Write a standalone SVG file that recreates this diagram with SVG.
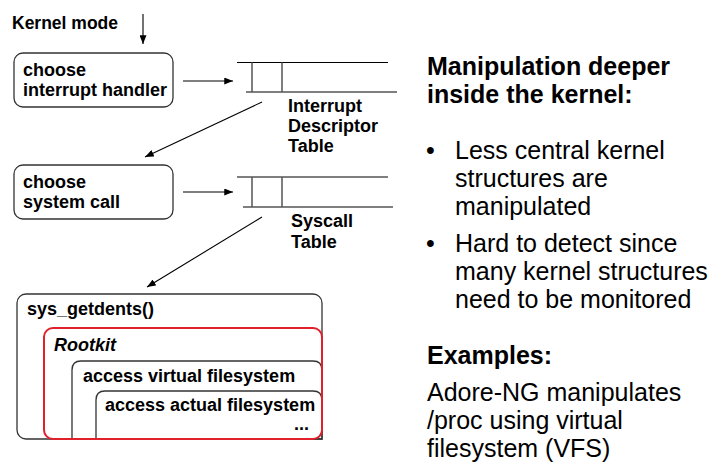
<svg xmlns="http://www.w3.org/2000/svg" width="722" height="470" viewBox="0 0 722 470">
<defs>
<marker id="ah" viewBox="0 0 10 8" refX="10" refY="4" markerWidth="9" markerHeight="7" markerUnits="userSpaceOnUse" orient="auto">
<path d="M0,0 L10,4 L0,8 Z" fill="#000"/>
</marker>
</defs>
<style>
.lbl{font-family:"Liberation Sans",Arial,sans-serif;font-weight:bold;font-size:18px;fill:#000}
.box{fill:none;stroke:#333;stroke-width:1.3}
.tl{stroke:#000;stroke-width:1.2;fill:none}
.tv{stroke:#555;stroke-width:1.5;fill:none}
.con{stroke:#000;stroke-width:1.1;fill:none;marker-end:url(#ah)}
.hd{font-family:"Liberation Sans",Arial,sans-serif;font-weight:bold;font-size:25px;fill:#000}
.bt{font-family:"Liberation Sans",Arial,sans-serif;font-size:25px;fill:#000}
</style>
<rect width="722" height="470" fill="#fff"/>
<g id="kernel-mode"><text class="lbl" x="12" y="29" style="font-size:17.5px">Kernel mode</text></g>
<g id="choose-interrupt">
<rect class="box" x="14" y="53" width="159" height="54" rx="9"/>
<text class="lbl" x="23" y="76">choose</text>
<text class="lbl" x="23" y="96">interrupt handler</text>
</g>
<g id="idt">
<line class="tl" x1="237" y1="62.5" x2="388" y2="62.5"/>
<line class="tl" x1="246" y1="92" x2="397" y2="92"/>
<line class="tv" x1="252" y1="62.5" x2="252" y2="92"/>
<line class="tv" x1="282" y1="62.5" x2="282" y2="92"/>
<text class="lbl" x="288" y="112">Interrupt</text>
<text class="lbl" x="288" y="132">Descriptor</text>
<text class="lbl" x="288" y="152">Table</text>
</g>
<g id="choose-syscall">
<rect class="box" x="14" y="165" width="159" height="54" rx="9"/>
<text class="lbl" x="23" y="187.5">choose</text>
<text class="lbl" x="23" y="207.5">system call</text>
</g>
<g id="syscall-table">
<line class="tl" x1="237" y1="177" x2="388" y2="177"/>
<line class="tl" x1="243" y1="207" x2="393" y2="207"/>
<line class="tv" x1="252" y1="177" x2="252" y2="207"/>
<line class="tv" x1="282" y1="177" x2="282" y2="207"/>
<text class="lbl" x="291" y="227">Syscall</text>
<text class="lbl" x="291" y="248">Table</text>
</g>
<g id="sys-getdents">
<rect class="box" x="17" y="294" width="305" height="145" rx="9"/>
<text class="lbl" x="27" y="315">sys_getdents()</text>
</g>
<g id="vfs">
<path class="box" d="M72,439 L72,370 Q72,361 81,361 L313,361 Q322,361 322,370 L322,439 Z"/>
<text class="lbl" x="83" y="382">access virtual filesystem</text>
</g>
<g id="actual-fs">
<path class="box" d="M96,439 L96,400 Q96,391 105,391 L313,391 Q322,391 322,400 L322,439 Z"/>
<text class="lbl" x="105" y="411">access actual filesystem</text>
<text class="lbl" x="294" y="430">...</text>
</g>
<g id="rootkit">
<rect x="44" y="328" width="278" height="111" rx="9" fill="none" stroke="#e0202a" stroke-width="2"/>
<text class="lbl" x="54" y="351" font-style="italic">Rootkit</text>
</g>
<g id="connectors">
<line class="con" x1="143" y1="14" x2="143" y2="44"/>
<line class="con" x1="183" y1="81" x2="233" y2="81"/>
<line class="con" x1="262" y1="102" x2="145" y2="157"/>
<line class="con" x1="183" y1="192" x2="233" y2="192"/>
<line class="con" x1="262" y1="217" x2="147" y2="287"/>
</g>
<g id="notes">
<text class="hd" x="427" y="75">Manipulation deeper</text>
<text class="hd" x="427" y="103">inside the kernel:</text>
<text class="bt" x="426" y="159">•</text>
<text class="bt" x="455" y="159">Less central kernel</text>
<text class="bt" x="455" y="187">structures are</text>
<text class="bt" x="455" y="215">manipulated</text>
<text class="bt" x="426" y="252">•</text>
<text class="bt" x="455" y="252">Hard to detect since</text>
<text class="bt" x="455" y="280">many kernel structures</text>
<text class="bt" x="455" y="308">need to be monitored</text>
<text class="hd" x="427" y="364">Examples:</text>
<text class="bt" x="427" y="401">Adore-NG manipulates</text>
<text class="bt" x="427" y="429">/proc using virtual</text>
<text class="bt" x="427" y="457">filesystem (VFS)</text>
</g>
</svg>
